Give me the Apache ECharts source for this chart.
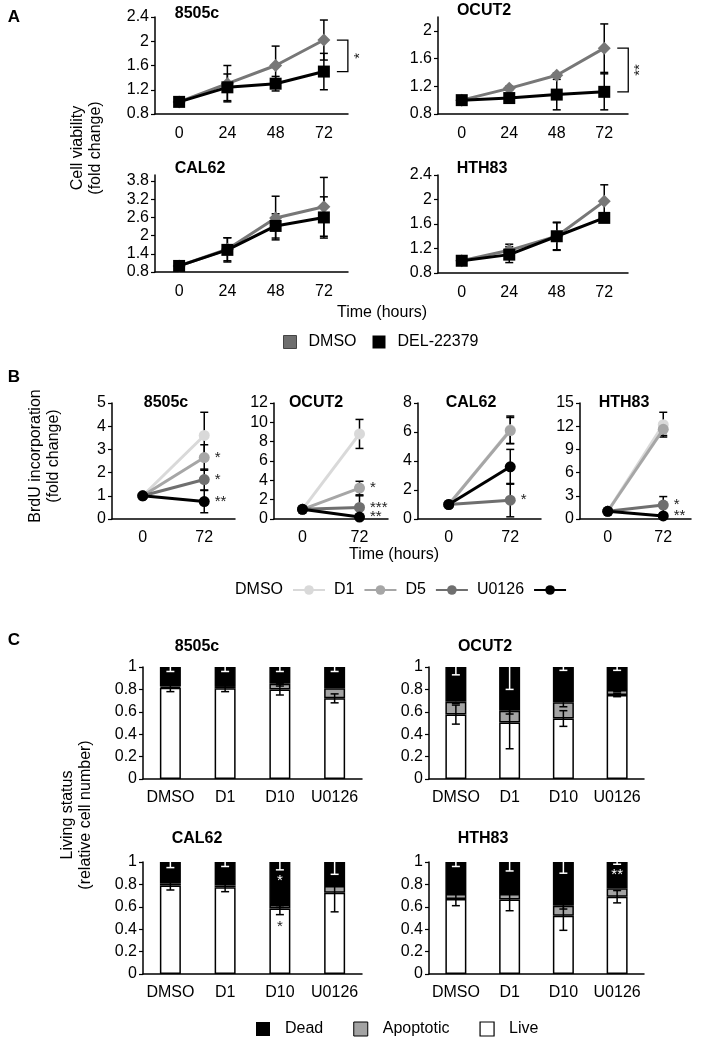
<!DOCTYPE html>
<html><head><meta charset="utf-8">
<script src="https://cdn.jsdelivr.net/npm/echarts@6/dist/echarts.min.js"></script>
<style>html,body{margin:0;padding:0;background:#fff}#c{width:709px;height:1041px}</style>
</head><body><div id="c"></div>
<script>
const FONT = '"Liberation Sans", Arial, Helvetica, sans-serif';

// ---------------- Panel A: cell viability ----------------
const cellLines = ['8505c', 'OCUT2', 'CAL62', 'HTH83'];
const hoursA = ['0', '24', '48', '72'];
const dmsoA = [[1.0, 1.30, 1.60, 2.02], [1.0, 1.17, 1.36, 1.75], [1.0, 1.55, 2.58, 2.95], [1.0, 1.17, 1.40, 1.97]];
const dmsoErrA = [[0, 0.30, 0.32, 0.33], [0, 0.03, 0.03, 0.35], [0, 0.38, 0.72, 0.97], [0, 0.10, 0.22, 0.27]];
const delA = [[1.0, 1.24, 1.30, 1.50], [1.0, 1.03, 1.08, 1.12], [1.0, 1.53, 2.32, 2.60], [1.0, 1.10, 1.40, 1.70]];
const delErrA = [[0, 0.22, 0.12, 0.30], [0, 0.04, 0.22, 0.26], [0, 0.40, 0.40, 0.68], [0, 0.13, 0.23, 0.04]];
const yMinA = [0.8, 0.8, 0.8, 0.8];
const yMaxA = [2.4, 2.2, 4.0, 2.4];
const yStepA = [0.4, 0.4, 0.6, 0.4];
const sigA = [{ from: 2.02, to: 1.50, text: '*' }, { from: 1.75, to: 1.12, text: '**' }, null, null];

// ---------------- Panel B: BrdU incorporation ----------------
const timesB = ['0', '72'];
const groupsB = ['DMSO', 'D1', 'D5', 'U0126'];
const valuesB = [
  [[1, 3.6], [1, 2.65], [1, 1.7], [1, 0.75]],
  [[1, 8.8], [1, 3.2], [1, 1.2], [1, 0.2]],
  [[1, 6.15], [1, 6.1], [1, 1.3], [1, 3.6]],
  [[1, 12.2], [1, 11.6], [1, 1.8], [1, 0.4]]
];
const errB = [[1.0, 0.55, 0.45, 0.48], [1.5, 0.7, 1.2, 0.1], [0.95, 0.9, 1.15, 1.2], [1.6, 0.8, 1.1, 0.2]];
const starsB = [['', '*', '*', '**'], ['', '*', '***', '**'], ['', '', '*', ''], ['', '', '*', '**']];
const yMaxB = [5, 12, 8, 15];
const yStepB = [1, 2, 2, 3];

// ---------------- Panel C: living status ----------------
const condC = ['DMSO', 'D1', 'D10', 'U0126'];
const liveC = [[0.815, 0.81, 0.80, 0.72], [0.575, 0.505, 0.54, 0.75], [0.79, 0.775, 0.585, 0.725], [0.67, 0.665, 0.52, 0.69]];
const apopC = [[0.01, 0.02, 0.05, 0.09], [0.115, 0.105, 0.145, 0.045], [0.02, 0.015, 0.03, 0.06], [0.045, 0.05, 0.09, 0.075]];
const deadC = [[0.175, 0.17, 0.15, 0.19], [0.31, 0.39, 0.315, 0.205], [0.19, 0.21, 0.385, 0.215], [0.285, 0.285, 0.39, 0.235]];
const liveErrC = [[0.035, 0.03, 0.05, 0.04], [0.085, 0.235, 0.07, 0.015], [0.04, 0.04, 0.055, 0.17], [0.06, 0.10, 0.13, 0.055]];
const apopErrC = [[0, 0, 0.02, 0], [0.015, 0.03, 0.04, 0.015], [0, 0, 0.02, 0], [0, 0, 0.03, 0]];
const deadErrC = [[0.04, 0.04, 0.04, 0.04], [0.07, 0.2, 0.03, 0.03], [0.05, 0.04, 0.07, 0.11], [0.04, 0.08, 0.1, 0.02]];
const starDeadC = [['', '', '', ''], ['', '', '', ''], ['', '', '*', ''], ['', '', '', '**']];
const starLiveC = [['', '', '', ''], ['', '', '', ''], ['', '', '*', ''], ['', '', '', '']];

// ---------------- layout ----------------
const gridA = [
  { left: 155, top: 17, width: 193, height: 97 },
  { left: 438, top: 17, width: 190, height: 97 },
  { left: 155, top: 175, width: 193, height: 97 },
  { left: 438, top: 175, width: 190, height: 98 }
];
const gridB = [
  { left: 112, top: 403, width: 123, height: 116 },
  { left: 274, top: 403, width: 114, height: 116 },
  { left: 418, top: 403, width: 123, height: 116 },
  { left: 580, top: 403, width: 111, height: 116 }
];
const gridC = [
  { left: 143, top: 667, width: 219, height: 112 },
  { left: 429, top: 667, width: 215, height: 112 },
  { left: 143, top: 862, width: 219, height: 112 },
  { left: 429, top: 862, width: 215, height: 112 }
];
const titlePosA = [[197, 14], [484, 11], [200, 169], [482, 169]];
const titlePosB = [[166, 403], [316, 403], [471, 403], [624, 403]];
const titlePosC = [[197, 647], [485, 647], [197, 839], [483, 839]];
const colA = { dmso: '#777777', del: '#000000' };
const colB = ['#d9d9d9', '#a6a6a6', '#6f6f6f', '#000000'];
const colC = { live: '#ffffff', apop: '#a3a3a3', dead: '#000000' };

const grids = [], xAxes = [], yAxes = [], series = [], graphics = [];

function addAxes(g, cats, ymin, ymax, step, labelMargin, hideMax) {
  const idx = grids.length;
  grids.push(Object.assign({}, g));
  xAxes.push({
    type: 'category', gridIndex: idx, data: cats, boundaryGap: true,
    axisLine: { lineStyle: { color: '#000', width: 1.5 } }, axisTick: { show: false },
    axisLabel: { color: '#000', fontSize: 16, fontFamily: FONT, margin: labelMargin, interval: 0 },
    splitLine: { show: false }
  });
  yAxes.push({
    type: 'value', gridIndex: idx, min: ymin, max: ymax, interval: step,
    axisLine: { show: true, lineStyle: { color: '#000', width: 1.5 } },
    axisTick: { show: true, length: 4, lineStyle: { color: '#000', width: 1.2 } },
    axisLabel: { color: '#000', fontSize: 16, fontFamily: FONT, margin: 6, showMaxLabel: !hideMax },
    splitLine: { show: false }
  });
  return idx;
}

function errorSeries(idx, items, color, capHalf, z) {
  // items: [xIndex, y, lowLen, highLen]
  return {
    type: 'custom', xAxisIndex: idx, yAxisIndex: idx, z: z, silent: true, clip: false,
    data: items.map(it => [it[0], it[1], it[2], it[3]]),
    renderItem: (params, api) => {
      const it = items[params.dataIndex];
      const x = it[0], y = it[1], lo = it[2], hi = it[3];
      const ch = [];
      if (lo > 0 || hi > 0) {
        const top = api.coord([x, y + hi]), bot = api.coord([x, y - lo]);
        const st = { stroke: color, lineWidth: 1.5 };
        ch.push({ type: 'line', shape: { x1: top[0], y1: top[1], x2: bot[0], y2: bot[1] }, style: st });
        if (hi > 0) ch.push({ type: 'line', shape: { x1: top[0] - capHalf, y1: top[1], x2: top[0] + capHalf, y2: top[1] }, style: st });
        if (lo > 0) ch.push({ type: 'line', shape: { x1: bot[0] - capHalf, y1: bot[1], x2: bot[0] + capHalf, y2: bot[1] }, style: st });
      }
      return { type: 'group', children: ch };
    }
  };
}

function starSeries(idx, items, z) {
  // items: [xIndex, yValue, text, color, dyPx]
  return {
    type: 'custom', xAxisIndex: idx, yAxisIndex: idx, z: z, silent: true, clip: false,
    data: items.map(it => [it[0], it[1]]),
    renderItem: (params, api) => {
      const it = items[params.dataIndex];
      const p = api.coord([it[0], it[1]]);
      return { type: 'text', x: p[0], y: p[1] + it[4], style: { text: it[2], fill: it[3], font: '15px ' + FONT, align: 'center', verticalAlign: 'middle' } };
    }
  };
}

function bracketSeries(idx, sig) {
  return {
    type: 'custom', xAxisIndex: idx, yAxisIndex: idx, z: 6, silent: true, clip: false,
    data: [[3, sig.from, sig.to]],
    renderItem: (params, api) => {
      const a = api.coord([3, sig.from]), b = api.coord([3, sig.to]);
      const x1 = a[0] + 13, x2 = a[0] + 24;
      return {
        type: 'group', children: [
          { type: 'polyline', shape: { points: [[x1, a[1]], [x2, a[1]], [x2, b[1]], [x1, b[1]]] }, style: { stroke: '#000', lineWidth: 1.3, fill: 'none' } },
          { type: 'text', x: x2 + 12, y: (a[1] + b[1]) / 2, rotation: Math.PI / 2, style: { text: sig.text, fill: '#222', font: '15px ' + FONT, align: 'center', verticalAlign: 'middle' } }
        ]
      };
    }
  };
}

function addText(x, y, text, size, bold, rot) {
  graphics.push({
    type: 'text', x: x, y: y, rotation: rot || 0, silent: true,
    style: { text: text, fill: '#000', font: (bold ? 'bold ' : '') + size + 'px ' + FONT, align: 'center', verticalAlign: 'middle', lineHeight: 18 }
  });
}

// ---- Panel A
cellLines.forEach((name, i) => {
  const idx = addAxes(gridA[i], hoursA, yMinA[i], yMaxA[i], yStepA[i], 12, yMaxA[i] !== 2.4);
  const errItems = [];
  dmsoA[i].forEach((v, k) => errItems.push([k, v, dmsoErrA[i][k], dmsoErrA[i][k]]));
  delA[i].forEach((v, k) => errItems.push([k, v, delErrA[i][k], delErrA[i][k]]));
  series.push(errorSeries(idx, errItems, '#000', 4, 1));
  series.push({
    type: 'line', name: 'DMSO', xAxisIndex: idx, yAxisIndex: idx, data: dmsoA[i], z: 3,
    symbol: 'diamond', symbolSize: 13, color: colA.dmso, lineStyle: { width: 3, color: colA.dmso },
    itemStyle: { color: colA.dmso }, animation: false
  });
  series.push({
    type: 'line', name: 'DEL-22379', xAxisIndex: idx, yAxisIndex: idx, data: delA[i], z: 4,
    symbol: 'rect', symbolSize: 12, color: colA.del, lineStyle: { width: 3, color: colA.del },
    itemStyle: { color: colA.del }, animation: false
  });
  if (sigA[i]) series.push(bracketSeries(idx, sigA[i]));
  addText(titlePosA[i][0], titlePosA[i][1], name, 16, true);
});

// ---- Panel B
cellLines.forEach((name, i) => {
  const idx = addAxes(gridB[i], timesB, 0, yMaxB[i], yStepB[i], 11, false);
  const errItems = groupsB.map((g, k) => [1, valuesB[i][k][1], errB[i][k], errB[i][k]]);
  series.push(errorSeries(idx, errItems, '#000', 4, 1));
  groupsB.forEach((g, k) => {
    series.push({
      type: 'line', name: 'B:' + g, xAxisIndex: idx, yAxisIndex: idx, data: valuesB[i][k], z: 3 + k,
      symbol: 'circle', symbolSize: 11, color: colB[k], lineStyle: { width: 3, color: colB[k] },
      itemStyle: { color: colB[k] }, animation: false,
      label: {
        show: true, position: 'right', distance: 5, fontSize: 15, fontFamily: FONT, color: '#222',
        formatter: p => (p.dataIndex === 1 ? starsB[i][k] : '')
      }
    });
  });
  addText(titlePosB[i][0], titlePosB[i][1], name, 16, true);
});

// ---- Panel C
cellLines.forEach((name, i) => {
  const idx = addAxes(gridC[i], condC, 0, 1, 0.2, 11, false);
  const stack = 'st' + i;
  const bs = (nm, data, color) => ({
    type: 'bar', name: nm, xAxisIndex: idx, yAxisIndex: idx, data: data, stack: stack, barWidth: 21,
    itemStyle: { color: color, borderColor: '#000', borderWidth: 1.5 }, animation: false, z: 2
  });
  series.push(bs('Live', liveC[i], colC.live));
  series.push(bs('Apoptotic', apopC[i], colC.apop));
  series.push(bs('Dead', deadC[i], colC.dead));
  const blackErr = [], whiteErr = [], stars = [];
  condC.forEach((c, k) => {
    const live = liveC[i][k], apTop = liveC[i][k] + apopC[i][k];
    const top = apTop + deadC[i][k];
    blackErr.push([k, live, liveErrC[i][k], liveErrC[i][k]]);
    if (apopErrC[i][k] > 0) blackErr.push([k, apTop, apopErrC[i][k], 0]);
    whiteErr.push([k, top, deadErrC[i][k], 0]);
    if (starDeadC[i][k]) stars.push([k, top - deadErrC[i][k], starDeadC[i][k], '#fff', 11]);
    if (starLiveC[i][k]) stars.push([k, live - liveErrC[i][k], starLiveC[i][k], '#222', 12]);
  });
  series.push(errorSeries(idx, blackErr, '#000', 4, 5));
  series.push(errorSeries(idx, whiteErr, '#fff', 4, 5));
  if (stars.length) series.push(starSeries(idx, stars, 6));
  addText(titlePosC[i][0], titlePosC[i][1], name, 16, true);
});

// panel letters, axis titles
addText(14, 17, 'A', 17, true);
addText(14, 377, 'B', 17, true);
addText(14, 640, 'C', 17, true);
addText(87, 148, 'Cell viability\n(fold change)', 16, false, Math.PI / 2);
addText(45, 456, 'BrdU incorporation\n(fold change)', 16, false, Math.PI / 2);
addText(77, 815, 'Living status\n(relative cell number)', 16, false, Math.PI / 2);
addText(382, 313, 'Time (hours)', 16, false);
addText(394, 555, 'Time (hours)', 16, false);

const legendText = { fontSize: 16, fontFamily: FONT, color: '#000' };
const option = {
  animation: false,
  backgroundColor: '#fff',
  grid: grids,
  xAxis: xAxes,
  yAxis: yAxes,
  series: series,
  graphic: graphics,
  legend: [
    {
      data: [
        { name: 'DMSO', icon: 'rect', itemStyle: { color: '#6e6e6e', borderColor: '#444', borderWidth: 1 } },
        { name: 'DEL-22379', icon: 'rect', itemStyle: { color: '#000' } }
      ],
      left: 283, top: 334, itemWidth: 13, itemHeight: 13, itemGap: 16, padding: 0, selectedMode: false,
      textStyle: Object.assign({ padding: [0, 0, 0, 7] }, legendText)
    },
    {
      data: groupsB.map(g => 'B:' + g), formatter: n => n.slice(2), align: 'right',
      left: 235, top: 582, itemWidth: 32, itemHeight: 12, itemGap: 8, padding: 0, selectedMode: false,
      textStyle: Object.assign({ padding: [0, 5, 0, 0] }, legendText)
    },
    {
      data: [
        { name: 'Dead', icon: 'rect', itemStyle: { color: '#000', borderWidth: 0 } },
        { name: 'Apoptotic', icon: 'rect', itemStyle: { color: colC.apop, borderColor: '#000', borderWidth: 1 } },
        { name: 'Live', icon: 'rect', itemStyle: { color: '#fff', borderColor: '#000', borderWidth: 1.2 } }
      ],
      left: 256, top: 1021, itemWidth: 14, itemHeight: 14, itemGap: 30, padding: 0, selectedMode: false,
      textStyle: Object.assign({ padding: [0, 0, 0, 10] }, legendText)
    }
  ]
};
const chart = echarts.init(document.getElementById('c'));
chart.setOption(option);
</script>
</body></html>
